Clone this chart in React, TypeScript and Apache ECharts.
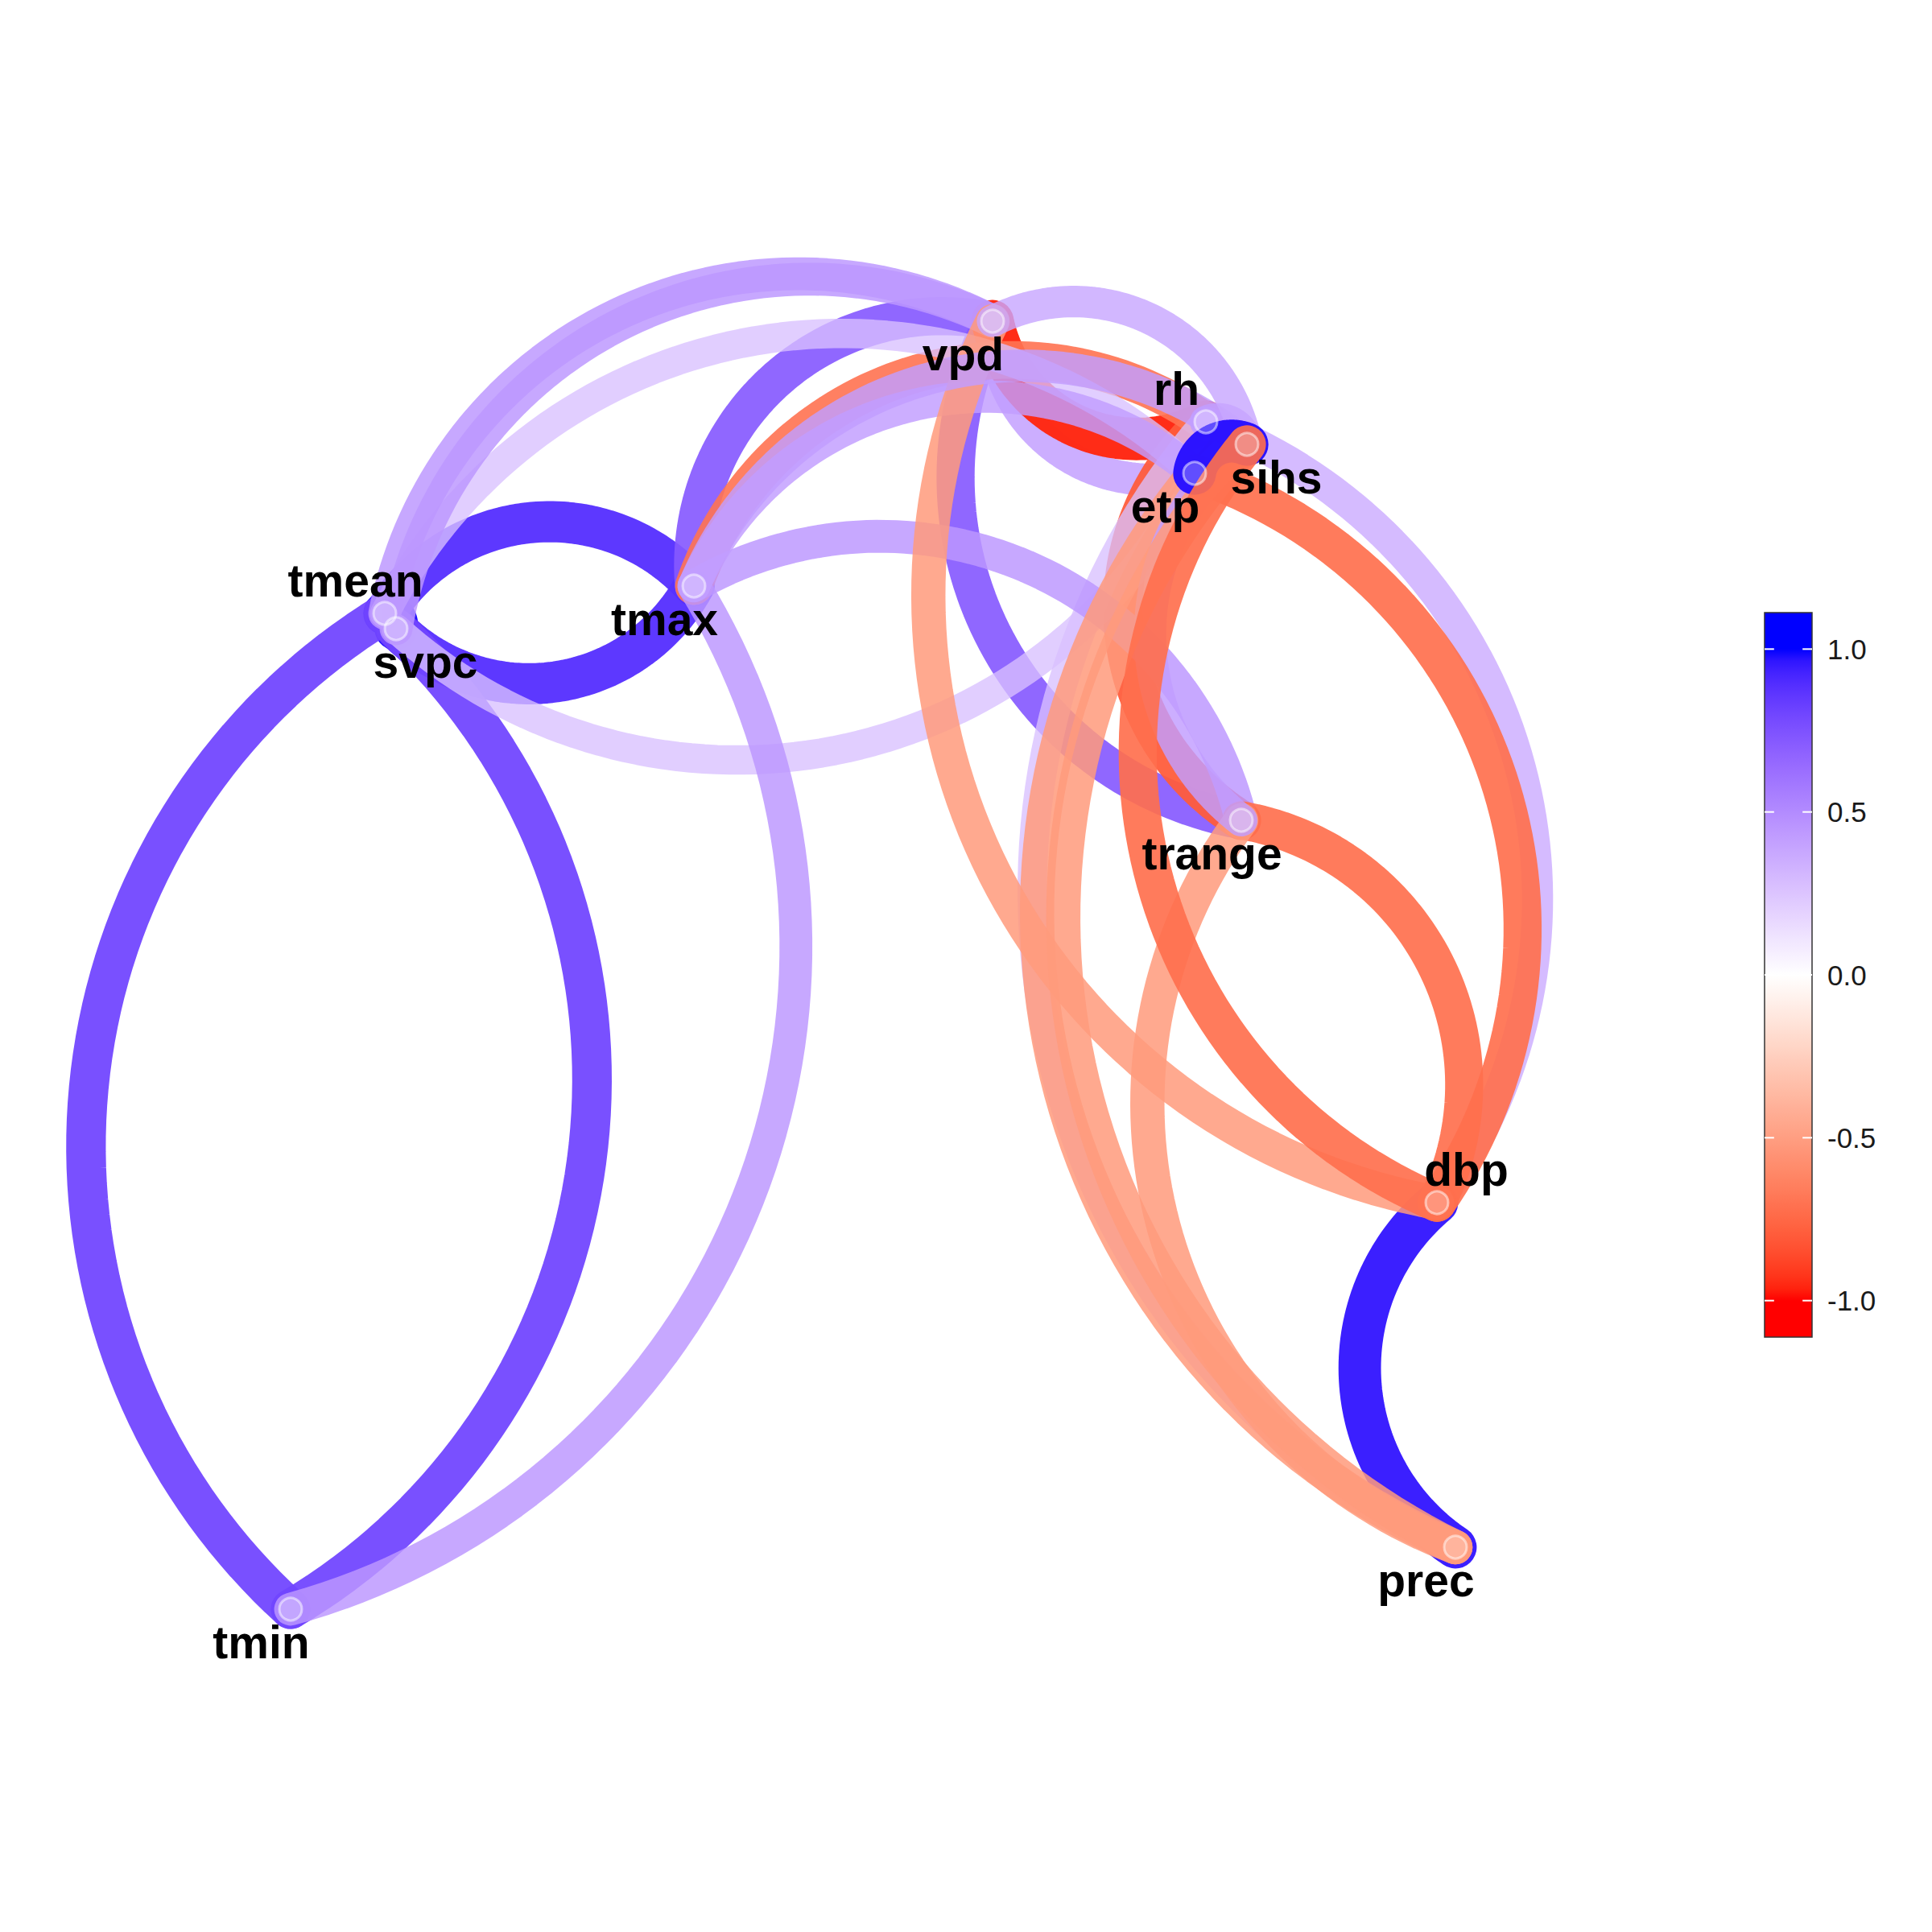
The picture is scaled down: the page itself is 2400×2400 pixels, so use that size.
import React, { useEffect, useRef } from 'react';
import * as echarts from 'echarts';

// ---- data ----
const nodeNames = ['tmean', 'svpc', 'tmax', 'tmin', 'vpd', 'rh', 'sihs', 'etp', 'trange', 'dbp', 'prec'];
// multidimensional-scaling coordinates of the variables
const nodeX = [0.478, 0.492, 0.862, 0.361, 1.233, 1.498, 1.549, 1.484, 1.542, 1.785, 1.808];
const nodeY = [1.638, 1.619, 1.672, 0.401, 2.001, 1.876, 1.848, 1.812, 1.381, 0.906, 0.478];

// correlation paths (from, to, r), listed in drawing order
const edgeFrom = ['prec', 'tmean', 'tmean', 'tmax', 'tmin', 'svpc', 'trange', 'tmax',
  'etp',
  'rh', 'trange', 'tmax',
  'prec', 'tmean', 'etp',
  'tmean', 'svpc', 'tmax', 'tmax', 'tmax', 'rh',
  'trange', 'etp', 'prec', 'dbp', 'prec',
  'tmax', 'trange', 'rh', 'vpd', 'prec',
  'etp',
  'dbp'];
const edgeTo = ['dbp', 'svpc', 'tmax', 'svpc', 'tmean', 'tmin', 'vpd', 'vpd',
  'vpd',
  'vpd', 'rh', 'rh',
  'rh', 'etp', 'svpc',
  'vpd', 'vpd', 'tmin', 'trange', 'etp', 'dbp',
  'dbp', 'dbp', 'etp', 'vpd', 'trange',
  'sihs', 'sihs', 'sihs', 'sihs', 'sihs',
  'sihs',
  'sihs'];
const edgeR = [0.95, 0.98, 0.88, 0.88, 0.8, 0.8, 0.72, 0.72,
  0.42,
  -0.95, -0.8, -0.7,
  0.27, 0.27, 0.27,
  0.45, 0.45, 0.45, 0.45, 0.42, 0.36,
  -0.72, -0.72, -0.52, -0.52, -0.52,
  0.42, 0.42, 0.42, 0.38, -0.52,
  0.97,
  -0.72];

const colorLimit = 1.112;
const legendTicks = [1, 0.5, 0, -0.5, -1];

// ---- styling helpers ----
const CURVE = 0.25; // sagitta / chord
const labelDir: Record<string, [number, number]> = {
  tmean: [-1, -1], svpc: [1, 1], tmax: [-1, 1], tmin: [-1, 1], vpd: [-1, 1], rh: [-1, -1],
  sihs: [1, 1], etp: [-1, 1], trange: [-1, 1], dbp: [1, -1], prec: [-1, 1],
};

function toLin(c: number) { c /= 255; return c <= 0.04045 ? c / 12.92 : Math.pow((c + 0.055) / 1.055, 2.4); }
function toSrgb(c: number) { c = Math.max(0, Math.min(1, c)); return 255 * (c <= 0.0031308 ? 12.92 * c : 1.055 * Math.pow(c, 1 / 2.4) - 0.055); }
function rgbToLab(rgb: number[]) {
  const r = toLin(rgb[0]), g = toLin(rgb[1]), b = toLin(rgb[2]);
  const X = (0.4124 * r + 0.3576 * g + 0.1805 * b) / 0.95047;
  const Y = (0.2126 * r + 0.7152 * g + 0.0722 * b);
  const Z = (0.0193 * r + 0.1192 * g + 0.9505 * b) / 1.08883;
  const f = (t: number) => (t > 0.008856 ? Math.cbrt(t) : 7.787 * t + 16 / 116);
  const fx = f(X), fy = f(Y), fz = f(Z);
  return [116 * fy - 16, 500 * (fx - fy), 200 * (fy - fz)];
}
function labToRgb(lab: number[]) {
  const fy = (lab[0] + 16) / 116, fx = fy + lab[1] / 500, fz = fy - lab[2] / 200;
  const fi = (t: number) => (t * t * t > 0.008856 ? t * t * t : (t - 16 / 116) / 7.787);
  const X = fi(fx) * 0.95047, Y = fi(fy), Z = fi(fz) * 1.08883;
  const r = 3.2406 * X - 1.5372 * Y - 0.4986 * Z;
  const g = -0.9689 * X + 1.8758 * Y + 0.0415 * Z;
  const b = 0.0557 * X - 0.204 * Y + 1.057 * Z;
  return [toSrgb(r), toSrgb(g), toSrgb(b)].map((v) => Math.round(v));
}
const LAB_RED = rgbToLab([255, 0, 0]);
const LAB_WHITE = rgbToLab([255, 255, 255]);
const LAB_BLUE = rgbToLab([0, 0, 255]);
function scaleRgb(v: number) {
  const t = Math.max(-1, Math.min(1, v));
  const end = t < 0 ? LAB_RED : LAB_BLUE;
  const a = Math.abs(t);
  return labToRgb(LAB_WHITE.map((w, i) => w + (end[i] - w) * a));
}
function edgeStroke(r: number) {
  const c = scaleRgb(r);
  const alpha = Math.min(1, 0.7 + 0.3 * Math.abs(r));
  return `rgba(${c[0]},${c[1]},${c[2]},${alpha.toFixed(3)})`;
}
function edgeWidth(r: number) { return 30 + 24 * Math.abs(r); }

function arcPoints(p1: number[], p2: number[], n = 72) {
  const dx = p2[0] - p1[0], dy = p2[1] - p1[1];
  const L = Math.hypot(dx, dy);
  if (L < 1e-6) return [p1, p2];
  const ux = dx / L, uy = dy / L;
  const nx = uy, ny = -ux;
  const mx = (p1[0] + p2[0]) / 2, my = (p1[1] + p2[1]) / 2;
  const s = CURVE * L;
  const R = (L * L / 4 + s * s) / (2 * s);
  const cx = mx + (s - R) * nx, cy = my + (s - R) * ny;
  const half = Math.asin(Math.min(1, (L / 2) / R));
  const pts: number[][] = [];
  for (let i = 0; i <= n; i++) {
    const phi = -half + (2 * half * i) / n;
    const c = Math.cos(phi), si = Math.sin(phi);
    pts.push([cx + R * (c * nx + si * ux), cy + R * (c * ny + si * uy)]);
  }
  return pts;
}

export default function App() {
  const ref = useRef<HTMLDivElement>(null);
  useEffect(() => {
    document.body.style.margin = '0';
    if (!ref.current) return;
    const chart = echarts.init(ref.current, undefined, { renderer: 'svg' });
    const idx = (name: string) => nodeNames.indexOf(name);
    const edgeData = edgeR.map((r, i) => {
      const a = idx(edgeFrom[i]), b = idx(edgeTo[i]);
      return [nodeX[a], nodeY[a], nodeX[b], nodeY[b], r];
    });
    const nodeData = nodeNames.map((n, i) => [nodeX[i], nodeY[i], i]);

    const stops: { offset: number; color: string }[] = [];
    const N = 60;
    for (let i = 0; i <= N; i++) {
      const v = colorLimit - (2 * colorLimit * i) / N;
      const c = scaleRgb(v);
      stops.push({ offset: i / N, color: `rgb(${c[0]},${c[1]},${c[2]})` });
    }

    const option: any = {
      animation: false,
      backgroundColor: '#ffffff',
      grid: [
        { left: 0, top: 0, width: 2400, height: 2400 },
        { left: 2192, top: 761, width: 59, height: 900 },
      ],
      xAxis: [
        { type: 'value', min: 0, max: 2.4, show: false, gridIndex: 0 },
        { type: 'value', min: 0, max: 1, show: false, gridIndex: 1 },
      ],
      yAxis: [
        { type: 'value', min: 0, max: 2.4, show: false, gridIndex: 0 },
        { type: 'value', min: -colorLimit, max: colorLimit, show: false, gridIndex: 1 },
      ],
      series: [
        {
          type: 'custom',
          xAxisIndex: 0,
          yAxisIndex: 0,
          data: edgeData,
          silent: true,
          renderItem: (params: any, api: any) => {
            const p1 = api.coord([api.value(0), api.value(1)]);
            const p2 = api.coord([api.value(2), api.value(3)]);
            const r = api.value(4);
            return {
              type: 'polyline',
              shape: { points: arcPoints(p1, p2) },
              style: { stroke: edgeStroke(r), lineWidth: edgeWidth(r), fill: null, lineCap: 'round', lineJoin: 'round' },
            };
          },
        },
        {
          type: 'custom',
          xAxisIndex: 0,
          yAxisIndex: 0,
          data: nodeData,
          silent: true,
          renderItem: (params: any, api: any) => {
            const p = api.coord([api.value(0), api.value(1)]);
            return {
              type: 'circle',
              shape: { cx: p[0], cy: p[1], r: 14 },
              style: { fill: 'rgba(255,255,255,0.25)', stroke: 'rgba(255,255,255,0.5)', lineWidth: 3 },
            };
          },
        },
        {
          type: 'custom',
          xAxisIndex: 0,
          yAxisIndex: 0,
          data: nodeData,
          silent: true,
          renderItem: (params: any, api: any) => {
            const p = api.coord([api.value(0), api.value(1)]);
            const name = nodeNames[api.value(2)];
            const d = labelDir[name];
            return {
              type: 'text',
              x: p[0] + d[0] * 36.5,
              y: p[1] + d[1] * 41,
              style: {
                text: name,
                fill: '#000000',
                font: 'bold 57px "Liberation Sans", Arial, sans-serif',
                align: 'center',
                verticalAlign: 'middle',
              },
            };
          },
        },
        {
          type: 'custom',
          xAxisIndex: 1,
          yAxisIndex: 1,
          data: [[0, 0]],
          silent: true,
          renderItem: (params: any, api: any) => {
            const tl = api.coord([0, colorLimit]);
            const br = api.coord([1, -colorLimit]);
            const w = br[0] - tl[0];
            const children: any[] = [
              {
                type: 'rect',
                shape: { x: tl[0], y: tl[1], width: w, height: br[1] - tl[1] },
                style: { fill: new echarts.graphic.LinearGradient(0, 0, 0, 1, stops), stroke: '#333333', lineWidth: 1.5 },
              },
            ];
            legendTicks.forEach((v) => {
              const y = api.coord([0, v])[1];
              children.push({ type: 'line', shape: { x1: tl[0], y1: y, x2: tl[0] + w / 5, y2: y }, style: { stroke: '#ffffff', lineWidth: 2 } });
              children.push({ type: 'line', shape: { x1: br[0] - w / 5, y1: y, x2: br[0], y2: y }, style: { stroke: '#ffffff', lineWidth: 2 } });
              children.push({
                type: 'text',
                x: br[0] + 19,
                y,
                style: { text: v.toFixed(1), fill: '#1a1a1a', font: '35px "Liberation Sans", Arial, sans-serif', align: 'left', verticalAlign: 'middle' },
              });
            });
            return { type: 'group', children };
          },
        },
      ],
    };
    chart.setOption(option);
    return () => chart.dispose();
  }, []);
  return <div ref={ref} style={{ width: 2400, height: 2400 }} />;
}
